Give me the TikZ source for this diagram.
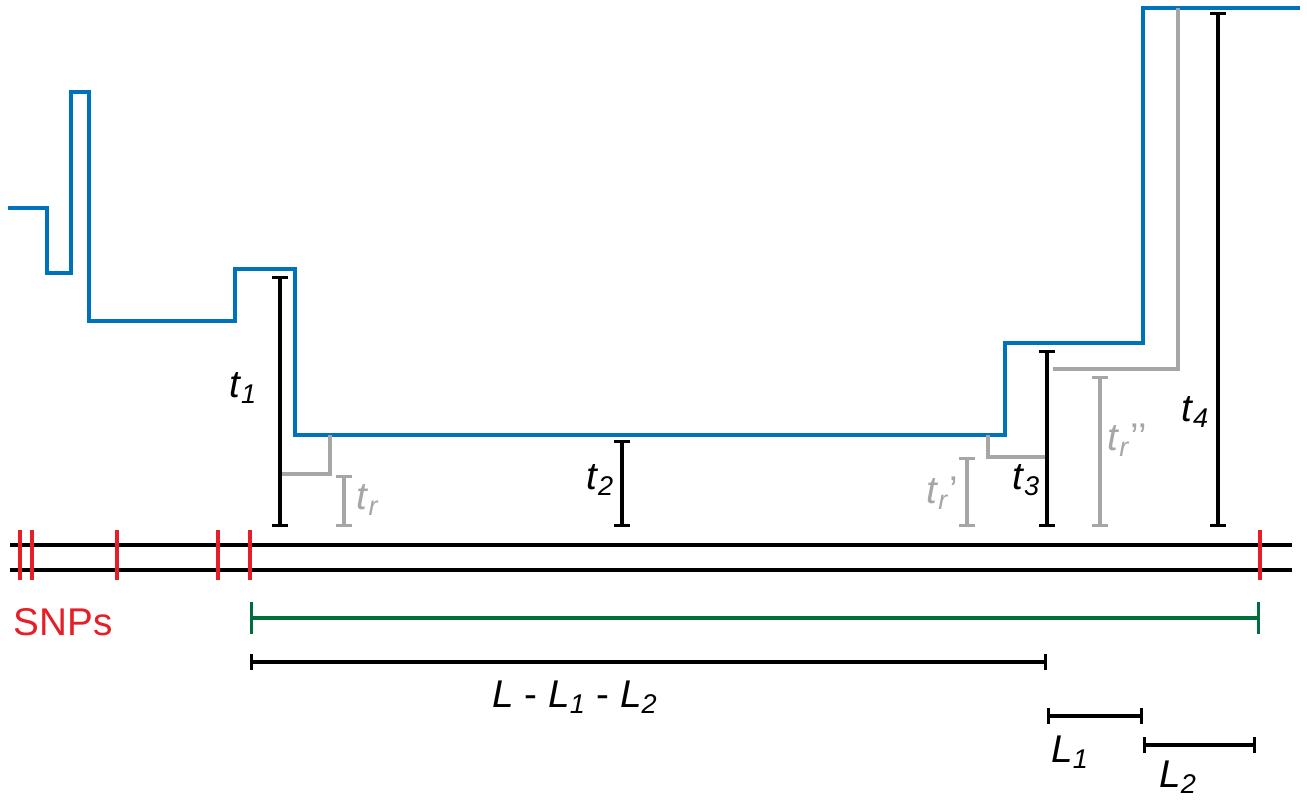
\documentclass[tikz,border=0pt]{standalone}
\usepackage{fontspec}
\setmainfont{Liberation Sans}
\usetikzlibrary{arrows.meta}
\definecolor{trace}{RGB}{0,114,188}
\definecolor{snp}{RGB}{230,30,40}
\definecolor{span}{RGB}{0,110,60}
\newcommand{\lab}[2]{\textit{#1}\textsubscript{\textit{#2}}}

\begin{document}
\begin{tikzpicture}[
        x=0.02cm, y=-0.02cm,
        trace/.style={draw=trace, line width=2.2pt},
        ref/.style={draw=black!35, line width=1.8pt},
        ibar/.style={line width=1.8pt, {Bar[width=9pt]}-{Bar[width=9pt]}},
        gbar/.style={ibar, draw=black!35},
        lbl/.style={font=\fontsize{22}{26}\selectfont},
        glbl/.style={lbl, text=black!35},
        tick/.style={draw=snp, line width=1.8pt},
    ]
    \useasboundingbox (0,0) rectangle (1307,800);

    % blue trace
    \draw[trace] (8,208) -- (47,208) -- (47,273) -- (71,273) -- (71,92) -- (89,92)
        -- (89,321) -- (235,321) -- (235,269) -- (295,269) -- (295,435)
        -- (1005,435) -- (1005,343) -- (1143,343) -- (1143,8) -- (1300,8);

    % grey reference steps
    \draw[ref] (330,435) -- (330,474) -- (280,474);
    \draw[ref] (988,435) -- (988,457) -- (1045,457);
    \draw[ref] (1178,8) -- (1178,369) -- (1053,369);

    % black bars
    \coordinate (base1) at (280,527);  \coordinate (top1) at (280,276);
    \coordinate (base2) at (622,527);  \coordinate (top2) at (622,440);
    \coordinate (base3) at (1047,527); \coordinate (top3) at (1047,350);
    \coordinate (base4) at (1218,527); \coordinate (top4) at (1218,12);
    \foreach \i in {1,...,4}
        \draw[ibar] (base\i) -- (top\i);

    % grey bars
    \coordinate (rb1) at (344,527); \coordinate (rt1) at (344,475);
    \coordinate (rb2) at (967,527); \coordinate (rt2) at (967,457);
    \coordinate (rb3) at (1100,527); \coordinate (rt3) at (1100,376);
    \foreach \i in {1,2,3}
        \draw[gbar] (rb\i) -- (rt\i);

    \node[lbl] (t1) at (243,388) {\lab{t}{1}};
    \node[lbl] (t2) at (600,480) {\lab{t}{2}};
    \node[lbl] (t3) at (1026,480) {\lab{t}{3}};
    \node[lbl] (t4) at (1195,412) {\lab{t}{4}};
    \node[glbl] (tr1) at (368,500) {\lab{t}{r}};
    \node[glbl] (tr2) at (942,493) {\lab{t}{r}’};
    \node[glbl] (tr3) at (1127,440) {\lab{t}{r}’’};

    % chromosome
    \coordinate (c1) at (10,545);  \coordinate (c2) at (1292,545);
    \coordinate (c3) at (10,570);  \coordinate (c4) at (1292,570);
    \draw[line width=1.8pt] (c1) -- (c2);
    \draw[line width=1.8pt] (c3) -- (c4);
    \foreach \x in {20,32,117,218,250,1260}
        \draw[tick] (\x,530) -- (\x,580);
    \node[lbl, text=snp] (snps) at (63,622) {SNPs};

    % spans
    \draw[draw=span, line width=1.8pt, {Bar[width=18pt]}-{Bar[width=18pt]}] (250,618) -- (1260,618);
    \draw[ibar] (250,662) -- (1047,662);
    \draw[ibar] (1047,716) -- (1143,716);
    \draw[ibar] (1143,745) -- (1256,745);
    \node[lbl] (lmid) at (575,697) {\textit{L} - \lab{L}{1} - \lab{L}{2}};
    \node[lbl] (l1) at (1070,752) {\lab{L}{1}};
    \node[lbl] (l2) at (1178,777) {\lab{L}{2}};
\end{tikzpicture}
\end{document}
